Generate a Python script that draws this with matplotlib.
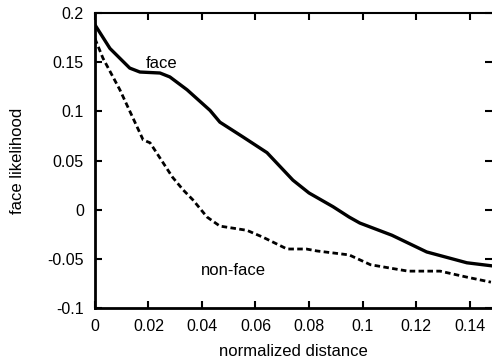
import matplotlib
matplotlib.use("Agg")
import matplotlib.pyplot as plt

# valores
dist_face = [0.0, 0.0056, 0.013, 0.0168, 0.0243, 0.028, 0.0344, 0.043, 0.0467,
             0.0553, 0.0643, 0.074, 0.080, 0.089, 0.095, 0.099, 0.111, 0.124,
             0.139, 0.148]
face = [0.188, 0.164, 0.144, 0.140, 0.139, 0.135, 0.122, 0.101, 0.089,
        0.074, 0.058, 0.030, 0.017, 0.003, -0.0075, -0.0136, -0.026, -0.043,
        -0.054, -0.057]

dist_nonface = [0.0, 0.003, 0.0093, 0.018, 0.0206, 0.029, 0.033, 0.0366, 0.0419,
                0.0467, 0.0568, 0.0628, 0.0718, 0.079, 0.083, 0.095, 0.103,
                0.117, 0.129, 0.139, 0.148]
nonface = [0.174, 0.154, 0.122, 0.071, 0.068, 0.033, 0.020, 0.010, -0.0075,
           -0.0167, -0.021, -0.028, -0.040, -0.040, -0.042, -0.046, -0.056,
           -0.0625, -0.0625, -0.0686, -0.0737]

xticks = [0, 0.02, 0.04, 0.06, 0.08, 0.1, 0.12, 0.14]
xtick_labels = ["0", "0.02", "0.04", "0.06", "0.08", "0.1", "0.12", "0.14"]
yticks = [-0.1, -0.05, 0, 0.05, 0.1, 0.15, 0.2]
ytick_labels = ["-0.1", "-0.05", "0", "0.05", "0.1", "0.15", "0.2"]

plt.rcParams['font.family'] = ['Liberation Sans', 'DejaVu Sans']

fig = plt.figure(figsize=(4.92, 3.63), dpi=100)
ax = fig.add_axes([0.193, 0.1515, 0.807, 0.8126])

ax.plot(dist_face, face, color='black', linewidth=2.4)
ax.plot(dist_nonface, nonface, color='black', linewidth=2.0, linestyle=(0, (2, 1.2)))

ax.text(0.025, 0.149, "face", fontsize=12, ha='center', va='center')
ax.text(0.0516, -0.0614, "non-face", fontsize=12, ha='center', va='center')

ax.set_xlim(0, 0.1484)
ax.set_ylim(-0.1, 0.2)
ax.set_xticks(xticks)
ax.set_xticklabels(xtick_labels, fontsize=11.5)
ax.set_yticks(yticks)
ax.set_yticklabels(ytick_labels, fontsize=11.5)
ax.tick_params(direction='in', length=5, width=1.5, top=True, right=True, pad=8)

ax.spines['left'].set_linewidth(2)
ax.spines['bottom'].set_linewidth(2)
ax.spines['top'].set_linewidth(1.5)
ax.spines['right'].set_visible(False)

ax.set_xlabel("normalized distance", fontsize=12, labelpad=7)
ax.set_ylabel("face likelihood", fontsize=12, labelpad=16)

plt.savefig("out.png", dpi=100)
